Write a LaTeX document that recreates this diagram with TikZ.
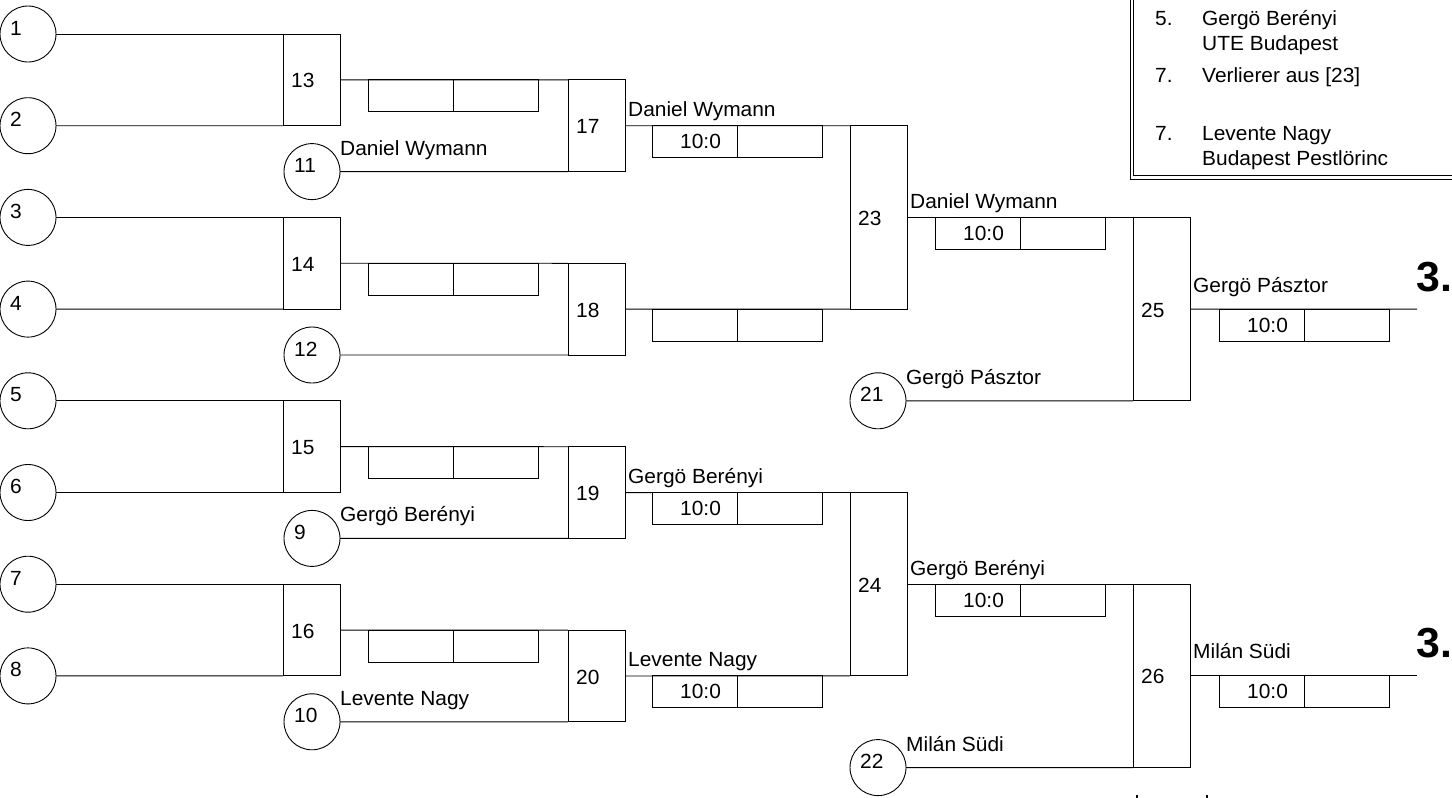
\documentclass[tikz,border=0pt]{standalone}
\usepackage{fontspec}
\setmainfont{Liberation Sans}[FakeStretch=1.02]
\newcommand\fsz{\fontsize{20.5pt}{24pt}\selectfont}
\tikzset{
  ln/.style={line width=0.9pt},
  circ/.style={circle, draw, line width=0.9pt, minimum size=56pt, inner sep=0pt, outer sep=0pt},
  mbox/.style={rectangle, draw, line width=0.9pt, minimum width=57pt, inner sep=0pt, outer sep=0pt, anchor=north west},
  mshort/.style={mbox, minimum height=91.7pt},
  mlong/.style={mbox, minimum height=183.4pt},
  sc/.style={rectangle, draw, line width=0.9pt, minimum width=85pt, minimum height=32pt, inner sep=0pt, outer sep=0pt, anchor=north west},
  num/.style={inner sep=0pt, anchor=west, font=\fsz},
  lab/.style={inner sep=0pt, anchor=base west, font=\fsz},
  bigno/.style={inner sep=0pt, anchor=base west, font=\fontsize{42pt}{46pt}\selectfont\bfseries},
}
\begin{document}
\begin{tikzpicture}[x=1pt, y=-1pt]
\useasboundingbox (0,0) rectangle (1452,798);
\clip (0,0) rectangle (1452,798);

% ---- first-round circles
\node[circ] (c1) at (28,34) {};
\node[circ] (c2) at (28,125.7) {};
\node[circ] (c3) at (28,217.4) {};
\node[circ] (c4) at (28,309.1) {};
\node[circ] (c5) at (28,400.8) {};
\node[circ] (c6) at (28,492.5) {};
\node[circ] (c7) at (28,584.2) {};
\node[circ] (c8) at (28,675.9) {};
\node[circ] (c11) at (312,171.6) {};
\node[circ] (c12) at (312,355) {};
\node[circ] (c9) at (312,538.4) {};
\node[circ] (c10) at (312,721.8) {};
\node[circ] (c21) at (878,400.8) {};
\node[circ] (c22) at (878,767.6) {};
\foreach \c/\t in {c1/1,c2/2,c3/3,c4/4,c5/5,c6/6,c7/7,c8/8,c9/9,c10/10,c11/11,c12/12,c21/21,c22/22}
  \node[num] (t\c) at ([xshift=-18pt,yshift=6pt]\c.center) {\t};

% ---- match boxes
\node[mshort] (m13) at (283,34) {};
\node[mshort] (m14) at (283,217.4) {};
\node[mshort] (m15) at (283,400.8) {};
\node[mshort] (m16) at (283,584.2) {};
\node[mshort] (m17) at (568,79.9) {};
\node[mshort] (m18) at (568,263.3) {};
\node[mshort] (m19) at (568,446.7) {};
\node[mshort] (m20) at (568,630.1) {};
\node[mlong] (m23) at (850,125.7) {};
\node[mlong] (m24) at (850,492.5) {};
\node[mlong] (m25) at (1133,217.4) {};
\node[mlong] (m26) at (1133,584.2) {};
\foreach \m/\t in {m13/13,m14/14,m15/15,m16/16,m17/17,m18/18,m19/19,m20/20,m23/23,m24/24,m25/25,m26/26}
  \node[num] (n\m) at ([xshift=8pt,yshift=-1pt]\m.west) {\t};

% ---- result ends
\coordinate (e25) at (1417,309.1);
\coordinate (e26) at (1417,675.9);

% ---- connectors
\draw[ln] (c1) -- (m13.north west);
\draw[ln] (c2) -- (m13.south west);
\draw[ln] (c3) -- (m14.north west);
\draw[ln] (c4) -- (m14.south west);
\draw[ln] (c5) -- (m15.north west);
\draw[ln] (c6) -- (m15.south west);
\draw[ln] (c7) -- (m16.north west);
\draw[ln] (c8) -- (m16.south west);
\draw[ln] (m13.east) -- (m17.north west);
\draw[ln] (c11) -- (m17.south west);
\draw[ln] (m14.east) -- (m18.north west);
\draw[ln] (c12) -- (m18.south west);
\draw[ln] (m15.east) -- (m19.north west);
\draw[ln] (c9) -- (m19.south west);
\draw[ln] (m16.east) -- (m20.north west);
\draw[ln] (c10) -- (m20.south west);
\draw[ln] (m17.east) -- (m23.north west);
\draw[ln] (m18.east) -- (m23.south west);
\draw[ln] (m19.east) -- (m24.north west);
\draw[ln] (m20.east) -- (m24.south west);
\draw[ln] (m23.east) -- (m25.north west);
\draw[ln] (c21) -- (m25.south west);
\draw[ln] (m24.east) -- (m26.north west);
\draw[ln] (c22) -- (m26.south west);
\draw[ln] (m25.east) -- (e25);
\draw[ln] (m26.east) -- (e26);

% ---- score cells
\foreach \s/\x/\y in {13/368/79.9, 14/368/263.3, 15/368/446.7, 16/368/630.1,
                      17/652/125.7, 18/652/309.1, 19/652/492.5, 20/652/675.9,
                      23/935/217.4, 24/935/584.2, 25/1219/309.1, 26/1219/675.9}{
  \node[sc] (s\s a) at (\x,\y) {};
  \node[sc] (s\s b) at (s\s a.north east) {};
}
\foreach \s in {17,19,20,23,24,25,26}
  \node[num] (r\s) at ([xshift=28pt]s\s a.west) {10:0};

% ---- names
\node[lab] (l11) at ([yshift=16.5pt]c11.east) {Daniel Wymann};
\node[lab] (l9) at ([yshift=16.5pt]c9.east) {Gergö Berényi};
\node[lab] (l10) at ([yshift=16.5pt]c10.east) {Levente Nagy};
\node[lab] (l21) at ([yshift=16.5pt]c21.east) {Gergö Pásztor};
\node[lab] (l22) at ([yshift=16.5pt]c22.east) {Milán Südi};
\node[lab] (l17) at ([xshift=3pt,yshift=9pt]m17.east) {Daniel Wymann};
\node[lab] (l19) at ([xshift=3pt,yshift=9pt]m19.east) {Gergö Berényi};
\node[lab] (l20) at ([xshift=3pt,yshift=9pt]m20.east) {Levente Nagy};
\node[lab] (l23) at ([xshift=3pt,yshift=9pt]m23.east) {Daniel Wymann};
\node[lab] (l24) at ([xshift=3pt,yshift=9pt]m24.east) {Gergö Berényi};
\node[lab] (l25) at ([xshift=3pt,yshift=17pt]m25.east) {Gergö Pásztor};
\node[lab] (l26) at ([xshift=3pt,yshift=17pt]m26.east) {Milán Südi};
\node[bigno] (p25) at ([xshift=-1pt,yshift=18pt]e25) {3.};
\node[bigno] (p26) at ([xshift=-1pt,yshift=18pt]e26) {3.};

% ---- legend box (cut off at the edges)
\draw[ln] (1130,-5) -- (1130,179) -- (1460,179);
\draw[ln] (1133.5,-5) -- (1133.5,175.5) -- (1460,175.5);
\node[lab] (g1) at (1155,25) {5.};
\node[lab] (g2) at (1202,25) {Gergö Berényi};
\node[lab] (g3) at (1202,50) {UTE Budapest};
\node[lab] (g4) at (1155,82) {7.};
\node[lab] (g5) at (1202,82) {Verlierer aus [23]};
\node[lab] (g6) at (1155,140) {7.};
\node[lab] (g7) at (1202,140) {Levente Nagy};
\node[lab] (g8) at (1202,165) {Budapest Pestlörinc};

% ---- small marks at the bottom edge
\draw[line width=2pt] (1137,795) -- (1137,800);
\draw[line width=2pt] (1207,795) -- (1207,800);
\end{tikzpicture}
\end{document}
